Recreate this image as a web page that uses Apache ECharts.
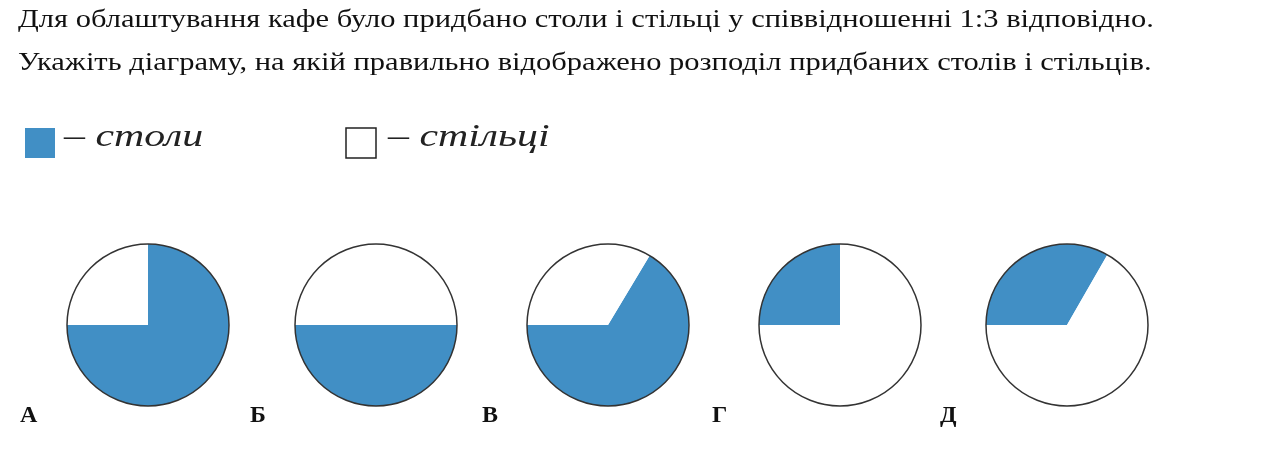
<!DOCTYPE html>
<html><head><meta charset="utf-8">
<script src="https://cdn.jsdelivr.net/npm/echarts@6/dist/echarts.min.js"></script>
<style>html,body{margin:0;background:#fff}#c{width:1288px;height:462px}</style>
</head><body><div id="c"></div>
<script>
const titleLines = ['Для облаштування кафе було придбано столи і стільці у співвідношенні 1:3 відповідно.',
 'Укажіть діаграму, на якій правильно відображено розподіл придбаних столів і стільців.'];
const legendNames = ['столи', 'стільці'];
const letters = ['А', 'Б', 'В', 'Г', 'Д'];
const blueShare = [75, 50, 66.4, 25, 33.3];
const whiteShare = [25, 50, 33.6, 75, 66.7];
const startAngles = [90, 0, 59, 180, 180];
const centersX = [148, 376, 608, 840, 1067];
const BLUE = '#418fc5';
const chart = echarts.init(document.getElementById('c'));
const series = [];
letters.forEach((l, i) => {
  series.push({type:'pie', silent:true, center:[centersX[i], 325], radius:81, startAngle:startAngles[i],
    clockwise:true, label:{show:false}, labelLine:{show:false}, animation:false,
    data:[{name:legendNames[0], value:blueShare[i], itemStyle:{color:BLUE}},
          {name:legendNames[1], value:whiteShare[i], itemStyle:{color:'#fff'}}]});
  series.push({type:'pie', silent:true, center:[centersX[i], 325], radius:81, label:{show:false}, animation:false,
    data:[{value:1, itemStyle:{color:'rgba(0,0,0,0)', borderColor:'#333', borderWidth:1.5}}]});
});
const serif = '"Liberation Serif", "DejaVu Serif", serif';
const graphic = [
  {type:'text', x:18, y:8, scaleX:1.22, style:{text:titleLines[0], font:'25px '+serif, fill:'#111'}},
  {type:'text', x:18, y:51, scaleX:1.22, style:{text:titleLines[1], font:'25px '+serif, fill:'#111'}},
  {type:'rect', shape:{x:25, y:128, width:30, height:30}, style:{fill:BLUE}},
  {type:'text', x:64, y:122, scaleX:1.35, style:{text:'– '+legendNames[0], font:'italic 31px '+serif, fill:'#222'}},
  {type:'rect', shape:{x:346, y:128, width:30, height:30}, style:{fill:'#fff', stroke:'#222', lineWidth:1.5}},
  {type:'text', x:388, y:122, scaleX:1.35, style:{text:'– '+legendNames[1], font:'italic 31px '+serif, fill:'#222'}}
];
const letterX = [20, 250, 482, 712, 940];
letters.forEach((l, i) => graphic.push({type:'text', left:letterX[i], top:404,
  style:{text:l, font:'bold 24px '+serif, fill:'#111'}}));
chart.setOption({animation:false, series, graphic});
</script></body></html>
